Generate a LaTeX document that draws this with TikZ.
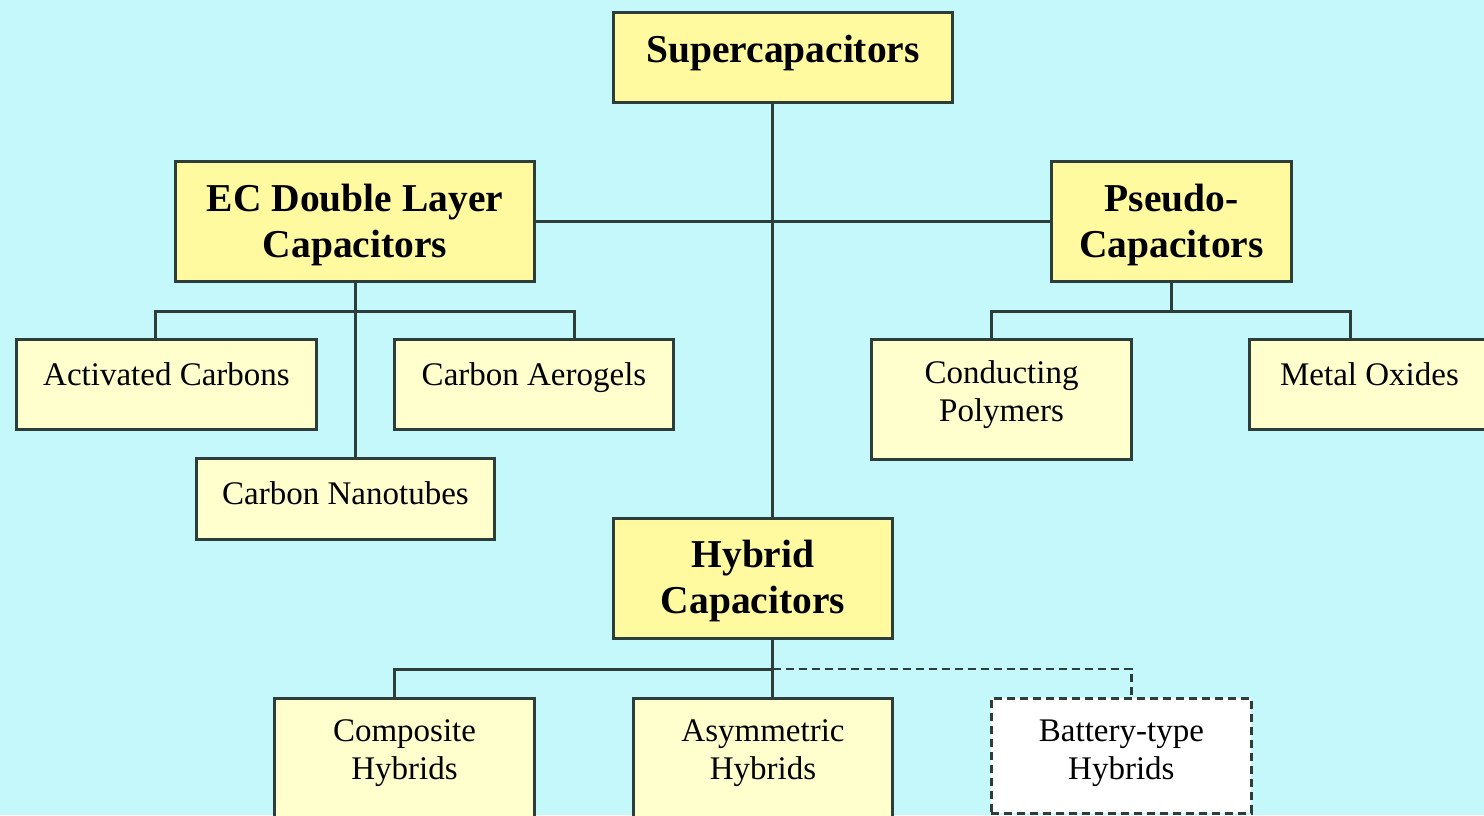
\documentclass[tikz,border=0pt]{standalone}
\usepackage{fontspec}
\setmainfont{Liberation Serif}
\usetikzlibrary{calc}
\definecolor{bg}{RGB}{196,248,250}
\definecolor{mainfill}{RGB}{255,250,160}
\definecolor{subfill}{RGB}{255,255,206}
\definecolor{edge}{RGB}{45,62,58}
\newcommand{\lowstrut}[1]{\rule[-#1]{0pt}{0pt}}
\newcommand{\highstrut}[1]{\rule{0pt}{#1}}
\begin{document}
\begin{tikzpicture}[x=1pt,y=-1pt,
  mainbox/.style={draw=edge, line width=3pt, fill=mainfill, inner sep=0pt, anchor=north west, align=center, font=\fontsize{39.5}{46}\selectfont\bfseries},
  subbox/.style={draw=edge, line width=3pt, fill=subfill, inner sep=0pt, anchor=north west, align=center, font=\fontsize{33}{38}\selectfont},
  lift/.style={text height=22pt, text depth=#1},
  conn/.style={draw=edge, line width=3pt},
  optconn/.style={draw=edge, line width=2.8pt, dash pattern=on 8pt off 5pt},
  optbox/.style={subbox, fill=white, line width=2.8pt, dash pattern=on 8pt off 5pt}]
\fill[bg] (0,0) rectangle (1484,815);
\useasboundingbox (0,0) rectangle (1484,815);
\clip (0,0) rectangle (1484,815);
% main nodes
\node[mainbox, text depth=17pt, minimum width=339, minimum height=90] (sup) at (612,11) {Supercapacitors};
\node[mainbox, minimum width=359, minimum height=120] (ec) at (174,160) {\highstrut{35pt}EC Double Layer\\Capacitors};
\node[mainbox, minimum width=240, minimum height=120] (pseudo) at (1050,160) {\highstrut{35pt}Pseudo-\\Capacitors};
\node[mainbox, minimum width=279, minimum height=120] (hyb) at (612,517) {\highstrut{33pt}Hybrid\\Capacitors};
% sub nodes
\node[subbox, lift=20pt, minimum width=300, minimum height=90] (act) at (15,338) {Activated Carbons};
\node[subbox, lift=20pt, minimum width=279, minimum height=90] (aero) at (393,338) {Carbon Aerogels};
\node[subbox, lift=11pt, minimum width=298, minimum height=81] (cnt) at (195,457) {Carbon Nanotubes};
\node[subbox, minimum width=260, minimum height=120] (cond) at (870,338) {Conducting\\Polymers\lowstrut{16pt}};
\node[subbox, lift=20pt, minimum width=240, minimum height=90] (metal) at (1248,338) {Metal Oxides};
\node[subbox, minimum width=260, minimum height=121] (comp) at (273,697) {Composite\\Hybrids\lowstrut{19pt}};
\node[subbox, minimum width=259, minimum height=121] (asym) at (632,697) {Asymmetric\\Hybrids\lowstrut{19pt}};
\node[optbox, minimum width=260, minimum height=115] (batt) at (990,697) {Battery-type\\Hybrids\lowstrut{13pt}};
% connectors
\draw[conn] ([xshift=-10.5pt]sup.south) -- ([xshift=19.5pt]hyb.north);
\draw[conn] (ec.east) -- (pseudo.west);
\draw[conn] (ec.south) -- (ec.south |- cnt.north);
\draw[conn] ([xshift=-11pt]act.north) -- ++(0,-27) -| ([xshift=40.5pt]aero.north);
\draw[conn] (pseudo.south) -- ++(0,28);
\draw[conn] ([xshift=-10pt]cond.north) -- ++(0,-27) -| ([xshift=-19pt]metal.north);
\coordinate (hj) at ($([xshift=19.5pt]hyb.south)+(0,29)$);
\draw[optconn] (hj) -| ([xshift=10pt]batt.north);
\draw[conn] ([xshift=19.5pt]hyb.south) -- ([xshift=9.5pt]asym.north);
\draw[conn] (hj) -| ([xshift=-10pt]comp.north);
\end{tikzpicture}
\end{document}
